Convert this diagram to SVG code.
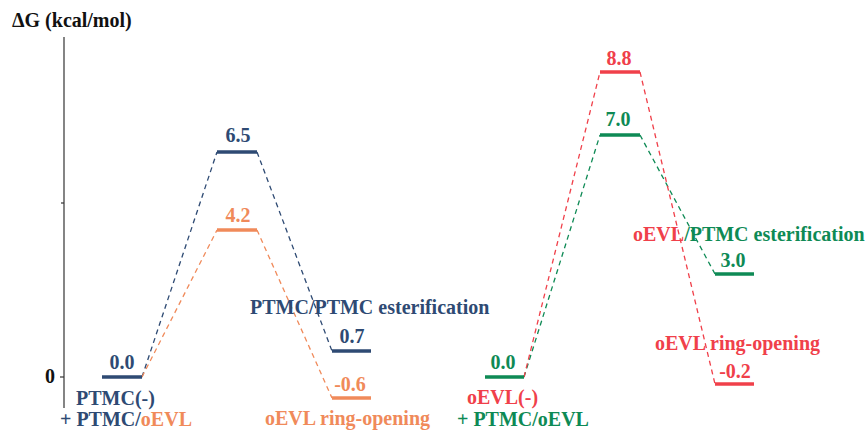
<svg xmlns="http://www.w3.org/2000/svg" width="867" height="431" viewBox="0 0 867 431">
<style>
text{font-family:"Liberation Serif","Times New Roman",serif;font-weight:bold;font-size:20px}
.b{fill:#2E4A73}.o{fill:#F08A5A}.g{fill:#0E8A55}.r{fill:#F0404A}.k{fill:#111}
.m{text-anchor:middle}
.lv{stroke-width:3.5;fill:none}
.d{stroke-width:1.3;fill:none;stroke-dasharray:5,4}
.sb{stroke:#2E4A73}.so{stroke:#F08A5A}.sg{stroke:#0E8A55}.sr{stroke:#F0404A}
</style>
<rect width="867" height="431" fill="#fff"/>
<g id="axis">
<line x1="64" y1="37" x2="64" y2="408" stroke="#333" stroke-width="1.2"/>
<line x1="60" y1="377" x2="64" y2="377" stroke="#333" stroke-width="1.2"/>
<line x1="61" y1="203" x2="64" y2="203" stroke="#333" stroke-width="1.2"/>
<text x="12" y="27" class="k">ΔG (kcal/mol)</text>
<text x="45" y="383" class="k">0</text>
</g>
<g id="connectors">
<line class="d sb" x1="142" y1="377" x2="217" y2="152"/>
<line class="d sb" x1="257" y1="152" x2="332" y2="351"/>
<line class="d so" x1="142" y1="377" x2="217" y2="230"/>
<line class="d so" x1="257" y1="230" x2="332" y2="398"/>
<line class="d sg" x1="524" y1="377" x2="600" y2="135"/>
<line class="d sg" x1="640" y1="135" x2="715" y2="274"/>
<line class="d sr" x1="524" y1="377" x2="600" y2="72"/>
<line class="d sr" x1="640" y1="72" x2="715" y2="384"/>
</g>
<g id="ptmc-start">
<line class="lv sb" x1="102" y1="377" x2="142" y2="377"/>
<text x="122" y="369" class="b m">0.0</text>
<text x="76" y="405" class="b">PTMC(-)</text>
<text x="60" y="426" class="b">+ PTMC/<tspan class="o">oEVL</tspan></text>
</g>
<g id="ptmc-ts">
<line class="lv sb" x1="217" y1="152" x2="257" y2="152"/>
<text x="238" y="142" class="b m">6.5</text>
</g>
<g id="oevl-ts1">
<line class="lv so" x1="217" y1="230" x2="257" y2="230"/>
<text x="238" y="222" class="o m">4.2</text>
</g>
<g id="ptmc-ester">
<line class="lv sb" x1="332" y1="351" x2="371" y2="351"/>
<text x="352" y="343" class="b m">0.7</text>
<text x="250" y="314" class="b">PTMC/PTMC esterification</text>
</g>
<g id="oevl-ring1">
<line class="lv so" x1="332" y1="398" x2="371" y2="398"/>
<text x="350" y="391" class="o m">-0.6</text>
<text x="265" y="425" class="o">oEVL ring-opening</text>
</g>
<g id="oevl-start">
<line class="lv sg" x1="485" y1="377" x2="524" y2="377"/>
<text x="503" y="369" class="g m">0.0</text>
<text x="467" y="404" class="r">oEVL(-)</text>
<text x="457" y="426" class="g">+ PTMC/oEVL</text>
</g>
<g id="oevl-ts2">
<line class="lv sr" x1="600" y1="72" x2="640" y2="72"/>
<text x="619" y="65" class="r m">8.8</text>
</g>
<g id="ptmc-ts2">
<line class="lv sg" x1="600" y1="135" x2="640" y2="135"/>
<text x="618" y="126" class="g m">7.0</text>
</g>
<g id="oevl-ester">
<line class="lv sg" x1="715" y1="274" x2="754" y2="274"/>
<text x="733" y="267" class="g m">3.0</text>
<text x="633" y="241" class="r">oEVL<tspan class="g">/PTMC esterification</tspan></text>
</g>
<g id="oevl-ring2">
<line class="lv sr" x1="715" y1="384" x2="754" y2="384"/>
<text x="735" y="378" class="r m">-0.2</text>
<text x="655" y="350" class="r">oEVL ring-opening</text>
</g>
</svg>
